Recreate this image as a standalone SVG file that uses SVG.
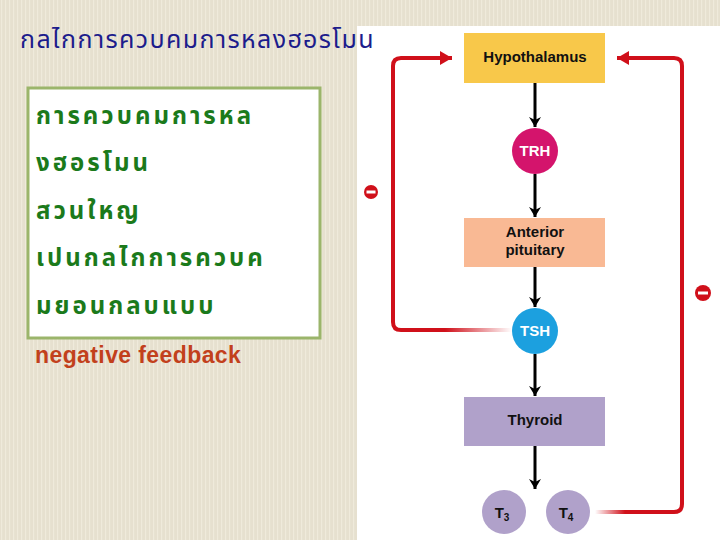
<svg xmlns="http://www.w3.org/2000/svg" width="720" height="540" viewBox="0 0 720 540">
<defs>
<pattern id="stripes" width="4" height="4" patternUnits="userSpaceOnUse">
<rect width="4" height="4" fill="#e6e0cf"/>
<rect x="1" width="1.2" height="4" fill="#efeadb"/>
</pattern>
<marker id="blk" viewBox="0 0 10 12" refX="10" refY="6" markerWidth="10" markerHeight="12" markerUnits="userSpaceOnUse" orient="auto">
<path d="M0,0 L10,6 L0,12 L3,6 Z" fill="#000"/>
</marker>
<marker id="red" viewBox="0 0 12 14" refX="12" refY="7" markerWidth="12" markerHeight="14" markerUnits="userSpaceOnUse" orient="auto">
<path d="M0,0 L12,7 L0,14 Z" fill="#d0101a"/>
</marker>
<linearGradient id="fadeL" x1="445" y1="0" x2="512" y2="0" gradientUnits="userSpaceOnUse">
<stop offset="0" stop-color="#d0101a"/>
<stop offset="1" stop-color="#d0101a" stop-opacity="0"/>
</linearGradient>
<linearGradient id="fadeR" x1="595" y1="0" x2="625" y2="0" gradientUnits="userSpaceOnUse">
<stop offset="0" stop-color="#d0101a" stop-opacity="0"/>
<stop offset="1" stop-color="#d0101a"/>
</linearGradient>
</defs>
<style>
.lbl{font-family:"Liberation Sans",Arial,sans-serif;font-weight:bold;font-size:15px;fill:#111;text-anchor:middle}
.circ{font-family:"Liberation Sans",Arial,sans-serif;font-weight:bold;font-size:15px;fill:#fff;text-anchor:middle}
.thai{font-family:"Noto Sans Thai","Noto Sans","DejaVu Sans",sans-serif}
.body{font-size:24px;fill:#1b7a1b;letter-spacing:3px;font-weight:bold}
.blk{stroke:#000;stroke-width:3;fill:none}
.rl{stroke:#d0101a;stroke-width:4;fill:none;stroke-linejoin:round}
</style>
<rect width="720" height="540" fill="url(#stripes)"/>
<rect x="357" y="26" width="363" height="514" fill="#fff"/>
<g id="title"><text x="20" y="48" class="thai" font-size="25" fill="#1c1c8c" letter-spacing="1.4">กลไกการควบคมการหลงฮอรโมน</text></g>
<g id="textbox">
<rect x="28" y="88" width="292" height="250" fill="#fff" stroke="#9bb56b" stroke-width="3"/>
<text class="thai body" x="36" y="124">การควบคมการหล</text>
<text class="thai body" x="36" y="171">งฮอรโมน</text>
<text class="thai body" x="36" y="219">สวนใหญ</text>
<text class="thai body" x="36" y="266">เปนกลไกการควบค</text>
<text class="thai body" x="36" y="314">มยอนกลบแบบ</text>
</g>
<g id="negfb"><text x="35" y="363" font-family="'Liberation Sans',Arial,sans-serif" font-size="23" font-weight="bold" letter-spacing="0.4" fill="#c2401c">negative feedback</text></g>
<g id="connectors">
<line class="blk" x1="535" y1="83" x2="535" y2="127" marker-end="url(#blk)"/>
<line class="blk" x1="535" y1="174" x2="535" y2="217" marker-end="url(#blk)"/>
<line class="blk" x1="535" y1="267" x2="535" y2="307" marker-end="url(#blk)"/>
<line class="blk" x1="535" y1="354" x2="535" y2="396" marker-end="url(#blk)"/>
<line class="blk" x1="535" y1="446" x2="535" y2="489" marker-end="url(#blk)"/>
<path class="rl" d="M445,330 H401 Q393,330 393,322 V66 Q393,58 401,58 H452" marker-end="url(#red)"/>
<line x1="445" y1="330" x2="512" y2="330" stroke="url(#fadeL)" stroke-width="4"/>
<path class="rl" d="M625,512 H674 Q682,512 682,504 V66 Q682,58 674,58 H617" marker-end="url(#red)"/>
<line x1="595" y1="512" x2="625" y2="512" stroke="url(#fadeR)" stroke-width="4"/>
</g>
<g id="minus-left"><circle cx="371" cy="192" r="7" fill="#d0101a"/><rect x="366.5" y="190.5" width="9" height="3" fill="#fff"/></g>
<g id="minus-right"><circle cx="703" cy="293" r="8" fill="#d0101a"/><rect x="698" y="291.5" width="10" height="3" fill="#fff"/></g>
<g id="hypothalamus"><rect x="464" y="33" width="141" height="50" fill="#f8c84a"/><text class="lbl" x="535" y="62">Hypothalamus</text></g>
<g id="trh"><circle cx="535" cy="151" r="23" fill="#d4146c"/><text class="circ" x="535" y="156">TRH</text></g>
<g id="anterior"><rect x="464" y="218" width="141" height="49" fill="#f9b994"/><text class="lbl" x="535" y="237">Anterior</text><text class="lbl" x="535" y="255">pituitary</text></g>
<g id="tsh"><circle cx="535" cy="331" r="23" fill="#1ca0df"/><text class="circ" x="535" y="336">TSH</text></g>
<g id="thyroid"><rect x="464" y="397" width="141" height="49" fill="#b0a1ca"/><text class="lbl" x="535" y="425">Thyroid</text></g>
<g id="t3"><circle cx="504" cy="512" r="22" fill="#b0a1ca"/><text class="lbl" x="502" y="518">T<tspan font-size="10" dy="3">3</tspan></text></g>
<g id="t4"><circle cx="568" cy="512" r="22" fill="#b0a1ca"/><text class="lbl" x="566" y="518">T<tspan font-size="10" dy="3">4</tspan></text></g>
</svg>
